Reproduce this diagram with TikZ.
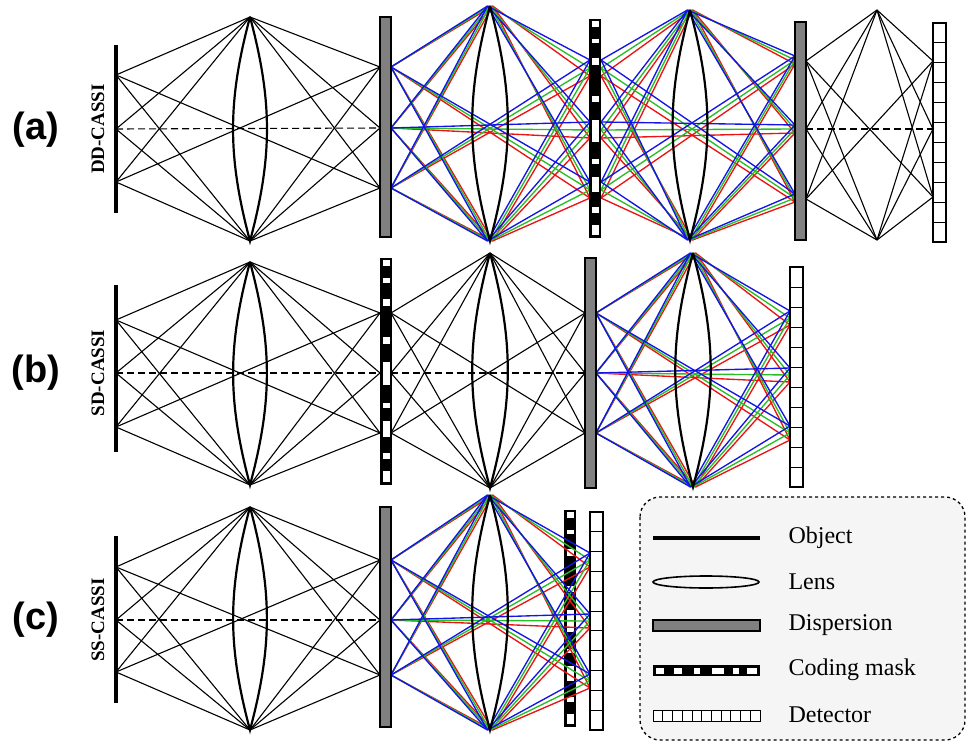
\documentclass[tikz,border=0pt]{standalone}
\usepackage{fontspec}
\setmainfont{Liberation Serif}
\newfontfamily\labsans{Liberation Sans}
\definecolor{cblue}{RGB}{20,20,230}
\definecolor{cgreen}{RGB}{40,190,40}
\definecolor{cred}{RGB}{235,20,20}
\definecolor{dgray}{RGB}{128,128,128}
\tikzset{
 bray/.style={black,line width=1.1pt},
 cray/.style={line width=1.35pt},
 lensline/.style={line width=2.2pt},
}
\newcommand\fan[9]{%
 \foreach \a in {#3}{\draw[#1] (#2,{\a})--({#4},#5); \draw[#1] (#2,{\a})--({#4},#6);}
 \foreach \b in {#8}{\draw[#1] ({#4},#5)--(#7,{\b}); \draw[#1] ({#4},#6)--(#7,{\b});}
 \foreach \a [count=\i] in {#3}{\foreach \b [count=\j] in {#8}{%
   \pgfmathtruncatemacro\t{\i+\j}%
   \ifnum\t=4 \ifnum\i=2 \draw[#1,#9] (#2,{\a})--(#7,{\b}); \else \draw[#1] (#2,{\a})--(#7,{\b}); \fi\fi}}%
}
\newcommand\lensshape[3]{\draw[lensline] (#1,#2) to[bend left=15] (#1,#3) to[bend left=15] (#1,#2);}
\newcommand\dispbar[3]{\draw[line width=1.8pt,fill=dgray] (#1,#2) rectangle ({#1+11},#3);}
\newcommand\maskbar[3]{%
 \fill[black] (#1,#2) rectangle ({#1+12},{#2+#3});
 \foreach \p/\q in {0.01/0.035,0.09/0.11,0.18/0.21,0.35/0.38,0.46/0.56,0.64/0.66,0.72/0.79,0.86/0.885,0.94/0.985}
   \fill[white] ({#1+2.5},{#2+\p*#3}) rectangle ({#1+9.5},{#2+\q*#3});}
\newcommand\detbar[4]{%
 \draw[line width=1.1pt,fill=white] (#1,#2) rectangle ({#1+13},#3);
 \foreach \n in {1,...,#4}{\draw[line width=0.9pt] (#1,{#2+(#3-#2)*\n/(#4+1)})--({#1+13},{#2+(#3-#2)*\n/(#4+1)});}}
\newcommand\colfan[7]{\foreach \c/\k in {cred/1,cgreen/0,cblue/-1}{\fan{cray,\c}{#1}{#2}{#3+2.5*(\k)}{#4}{#5}{#6}{#7}{}}}
\begin{document}
\begin{tikzpicture}[x=1pt,y=-1pt]
\useasboundingbox (0,0) rectangle (974,752);
% ===== (a)
\fan{bray}{116}{75,129,182}{250}{17}{241}{380}{67,128,188}{dashed,dash pattern=on 7pt off 4pt}
\colfan{391}{67,128,188}{490}{6}{241}{590}{68+8*(\k),130+8*(\k),190+8*(\k)}
\colfan{601}{68+8*(\k),130+8*(\k),190+8*(\k)}{690}{10}{240}{795}{60+4*(\k),129+4*(\k),198+4*(\k)}
\fan{bray}{806}{61,129,199}{877}{10}{240}{933}{61,129,197}{dashed,dash pattern=on 7pt off 4pt}
\draw[line width=3.5pt] (116,45)--(116,213);
\lensshape{250}{17}{241}
\lensshape{490}{6}{241}
\lensshape{690}{10}{240}
\dispbar{380}{17}{237}
\maskbar{589}{19}{219}
\dispbar{795}{22}{240}
\detbar{933}{23}{242}{10}
\node[font=\labsans\bfseries\fontsize{38}{44}\selectfont] (la) at (36,130) {(a)};
\node[font=\bfseries\fontsize{19}{22}\selectfont,rotate=90] (ta) at (98,129) {DD-CASSI};
% ===== (b)
\fan{bray}{116}{320,373,427}{250}{262}{485}{380}{313,373,433}{dashed,dash pattern=on 7pt off 4pt}
\fan{bray}{391}{313,373,433}{490}{253}{488}{585}{313,373,433}{dashed,dash pattern=on 7pt off 4pt}
\colfan{596}{313,373,433}{693}{253}{487}{790}{318+7*(\k),375+7*(\k),433+7*(\k)}
\draw[line width=3.5pt] (116,285)--(116,452);
\lensshape{250}{262}{485}
\lensshape{490}{253}{488}
\lensshape{693}{253}{487}
\maskbar{380}{258}{227}
\dispbar{585}{258}{488}
\detbar{790}{267}{487}{10}
\node[font=\labsans\bfseries\fontsize{38}{44}\selectfont] (lb) at (36,373) {(b)};
\node[font=\bfseries\fontsize{19}{22}\selectfont,rotate=90] (tb) at (98,373) {SD-CASSI};
% ===== (c)
\fan{bray}{116}{567,620,672}{250}{507}{730}{380}{560,620,675}{dashed,dash pattern=on 7pt off 4pt}
\maskbar{564}{510}{217}
\colfan{391}{560,620,675}{490}{495}{730}{590}{560+7*(\k),621+7*(\k),681+7*(\k)}
\draw[line width=3.5pt] (116,536)--(116,703);
\lensshape{250}{507}{730}
\lensshape{490}{495}{730}
\dispbar{380}{507}{727}
\detbar{590}{512}{730}{10}
\node[font=\labsans\bfseries\fontsize{38}{44}\selectfont] (lc) at (36,620) {(c)};
\node[font=\bfseries\fontsize{19}{22}\selectfont,rotate=90] (tc) at (98,620) {SS-CASSI};
% ===== legend
\draw[dashed,line width=1.3pt,rounded corners=20pt,fill=gray!8] (640,497) rectangle (965,740);
\draw[line width=3.5pt] (653,538)--(760,538);
\draw[line width=1.6pt] (706,582) ellipse [x radius=53, y radius=6];
\draw[line width=1.8pt,fill=dgray] (653,620) rectangle (760,631);
\fill (653,665) rectangle (760,676);
\foreach \p/\q in {0.03/0.1,0.2/0.27,0.38/0.44,0.55/0.66,0.75/0.8,0.88/0.97}
  \fill[white] ({653+\p*107},667.5) rectangle ({653+\q*107},673.5);
\draw[line width=1pt,fill=white] (653,710) rectangle (760,721);
\foreach \n in {1,...,10}\draw[line width=0.8pt] ({653+\n*107/11},710)--({653+\n*107/11},721);
\foreach \t/\y/\nm in {Object/538/l1,Lens/582/l2,Dispersion/625/l3,Coding mask/670/l4,Detector/715/l5}
  \node[anchor=west,font=\fontsize{24}{28}\selectfont] (\nm) at (785,\y) {\t};
\end{tikzpicture}
\end{document}
